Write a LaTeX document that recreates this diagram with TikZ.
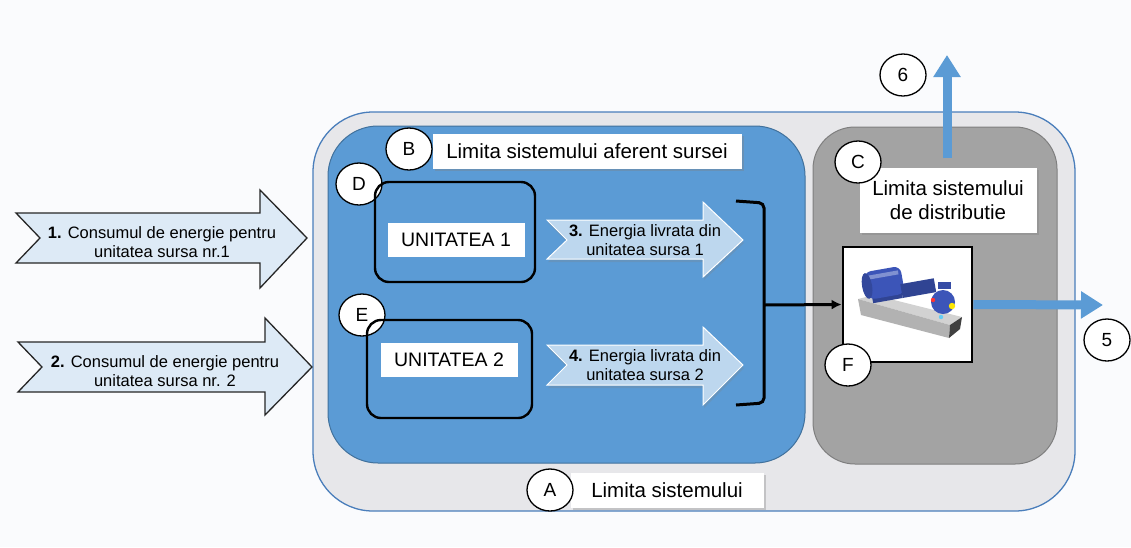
\documentclass[tikz,border=0pt]{standalone}
\usepackage{fontspec}
\setmainfont{Liberation Sans}
\usetikzlibrary{shapes.geometric,shadows,arrows.meta}

\definecolor{pagebg}{HTML}{FAFBFD}
\definecolor{outerfill}{HTML}{E7E7EA}
\definecolor{outerline}{HTML}{4A7EBB}
\definecolor{srcblue}{HTML}{5B9BD5}
\definecolor{srcline}{HTML}{41719C}
\definecolor{distgray}{HTML}{A3A3A3}
\definecolor{distline}{HTML}{7F7F7F}
\definecolor{inarrow}{HTML}{DDEAF6}
\definecolor{outarrow}{HTML}{BDD7EE}
\definecolor{motorblue}{HTML}{3C55B8}

\begin{document}
\begin{tikzpicture}[x=1pt,y=-1pt,
					letter/.style={ellipse, draw, line width=1.3pt, fill=white, minimum width=46pt, minimum height=42pt, inner sep=0pt, font=\fontsize{19}{19}\selectfont},
					tag/.style={rectangle, fill=white, inner sep=0pt, align=center, font=\fontsize{20.5}{24}\selectfont, drop shadow={opacity=0.35, shadow xshift=2pt, shadow yshift=-2pt}},
					unit/.style={draw, line width=2.4pt, rounded corners=14pt},
					unitname/.style={fill=white, inner sep=0pt, minimum width=137pt, minimum height=34pt, font=\fontsize{19.5}{20}\selectfont},
					bigarrow/.style={draw=black!85, line width=1.3pt, fill=inarrow},
					smallarrow/.style={draw=white, line width=1pt, fill=outarrow, drop shadow={opacity=0.25, shadow xshift=1pt, shadow yshift=-3pt}},
					arrowtext/.style={align=center, inner sep=0pt, font=\fontsize{16.5}{19}\selectfont},
					flow/.style={draw=srcblue, line width=9pt, -{Triangle[width=26pt,length=22pt]}}]
    \useasboundingbox (0,0) rectangle (1131,547);
    \fill[pagebg] (0,0) rectangle (1131,547);

    % Boundaries
    \draw[outerline, line width=1.3pt, fill=outerfill, rounded corners=60pt] (313,112) rectangle (1075,511);
    \draw[srcline, line width=1pt, fill=srcblue, rounded corners=50pt] (328,126) rectangle (805,463);
    \draw[distline, line width=1pt, fill=distgray, rounded corners=42pt] (813,127) rectangle (1057,464);

    % Input arrows
    \draw[bigarrow] (16,213) -- (260,213) -- (260,190) -- (307,238) -- (260,288) -- (260,263) -- (16,263) -- (40,238) -- cycle;
    \node[arrowtext] (in1) at (162,242) {\textbf{1.} Consumul de energie pentru\\unitatea sursa nr.1};
    \draw[bigarrow] (18,342) -- (265,342) -- (265,318) -- (312,367) -- (265,415) -- (265,392) -- (18,392) -- (42,367) -- cycle;
    \node[arrowtext] (in2) at (165,371) {\textbf{2.} Consumul de energie pentru\\unitatea sursa nr. 2};

    % Delivered energy arrows
    \draw[smallarrow] (547,220) -- (703,220) -- (703,202) -- (743,240) -- (703,277) -- (703,259) -- (547,259) -- (567,240) -- cycle;
    \node[arrowtext] (out1) at (645,240) {\textbf{3.} Energia livrata din\\unitatea sursa 1};
    \draw[smallarrow] (547,345) -- (703,345) -- (703,327) -- (743,365) -- (703,405) -- (703,385) -- (547,385) -- (567,365) -- cycle;
    \node[arrowtext] (out2) at (645,365) {\textbf{4.} Energia livrata din\\unitatea sursa 2};

    % Labels
    \node[tag, minimum width=309pt, minimum height=35pt] (btag) at (587,151) {Limita sistemului aferent sursei};
    \node[letter] (B) at (409,149) {B};
    \node[tag, minimum width=177pt, minimum height=65pt] (ctag) at (948,200) {Limita sistemului\\de distributie};
    \node[letter] (C) at (858,162) {C};
    \node[tag, minimum width=193pt, minimum height=35pt] (atag) at (667,490) {Limita sistemului};
    \node[letter] (A) at (550,490) {A};
    \node[letter] (D) at (359,184) {D};
    \node[letter] (E) at (362,315) {E};

    % Units
    \draw[unit] (375,182) rectangle (535,282);
    \node[unitname] (U1) at (456,240) {UNITATEA 1};
    \draw[unit] (367,320) rectangle (532,418);
    \node[unitname] (U2) at (449,360) {UNITATEA 2};

    % Pump
    \node[draw, line width=2.8pt, fill=white, minimum width=129pt, minimum height=115pt, inner sep=0pt] (pump) at (907.5,304.5) {};
    % base plate
    \fill[gray!35] (858,299) -- (874,295) -- (962,317) -- (950,325) -- cycle;
    \fill[gray!60] (858,299) -- (950,325) -- (949,338) -- (861,315) -- cycle;
    \fill[black!75] (950,325) -- (962,317) -- (960,329) -- (949,338) -- cycle;
    % motor
    \begin{scope}[rotate around={10:(884,284)}]
      \fill[motorblue!80!black] (870,292) rectangle (900,301);
      \fill[motorblue, rounded corners=7pt] (866,269) rectangle (903,297);
      \fill[motorblue!65!white] (870,273) rectangle (900,277);
      \fill[motorblue!85!black] (867,283) ellipse (5pt and 13pt);
      \fill[motorblue!80!black] (900,287) rectangle (934,301);
    \end{scope}
    % pump casing
    \fill[motorblue!90!black] (938,282) rectangle (951,289);
    \fill[motorblue] (943,302) circle (12pt);
    \fill[yellow!90!orange] (952,306) circle (3.2pt);
    \fill[red!80] (933,300) circle (2.2pt);
    \fill[cyan!60] (941,317) circle (2.2pt);
    \node[letter] (F) at (848,365) {F};

    % Outputs
    \node[letter] (five) at (1107,340) {5};
    \node[letter] (six) at (903,75) {6};
    \coordinate (out5) at (1103,305);
    \coordinate (src6) at (947,158);
    \coordinate (out6) at (947,55);

    % Draw edges
    \draw[line width=3pt, rounded corners=5pt] (736,201) -- (764,203) -- (764,403) -- (736,405);
    \draw[line width=3pt, -{Latex[length=10pt,width=10pt]}] (764,305) -- (pump.west);
    \draw[flow] (pump.east) -- (out5);
    \draw[flow] (src6) -- (out6);
\end{tikzpicture}
\end{document}
